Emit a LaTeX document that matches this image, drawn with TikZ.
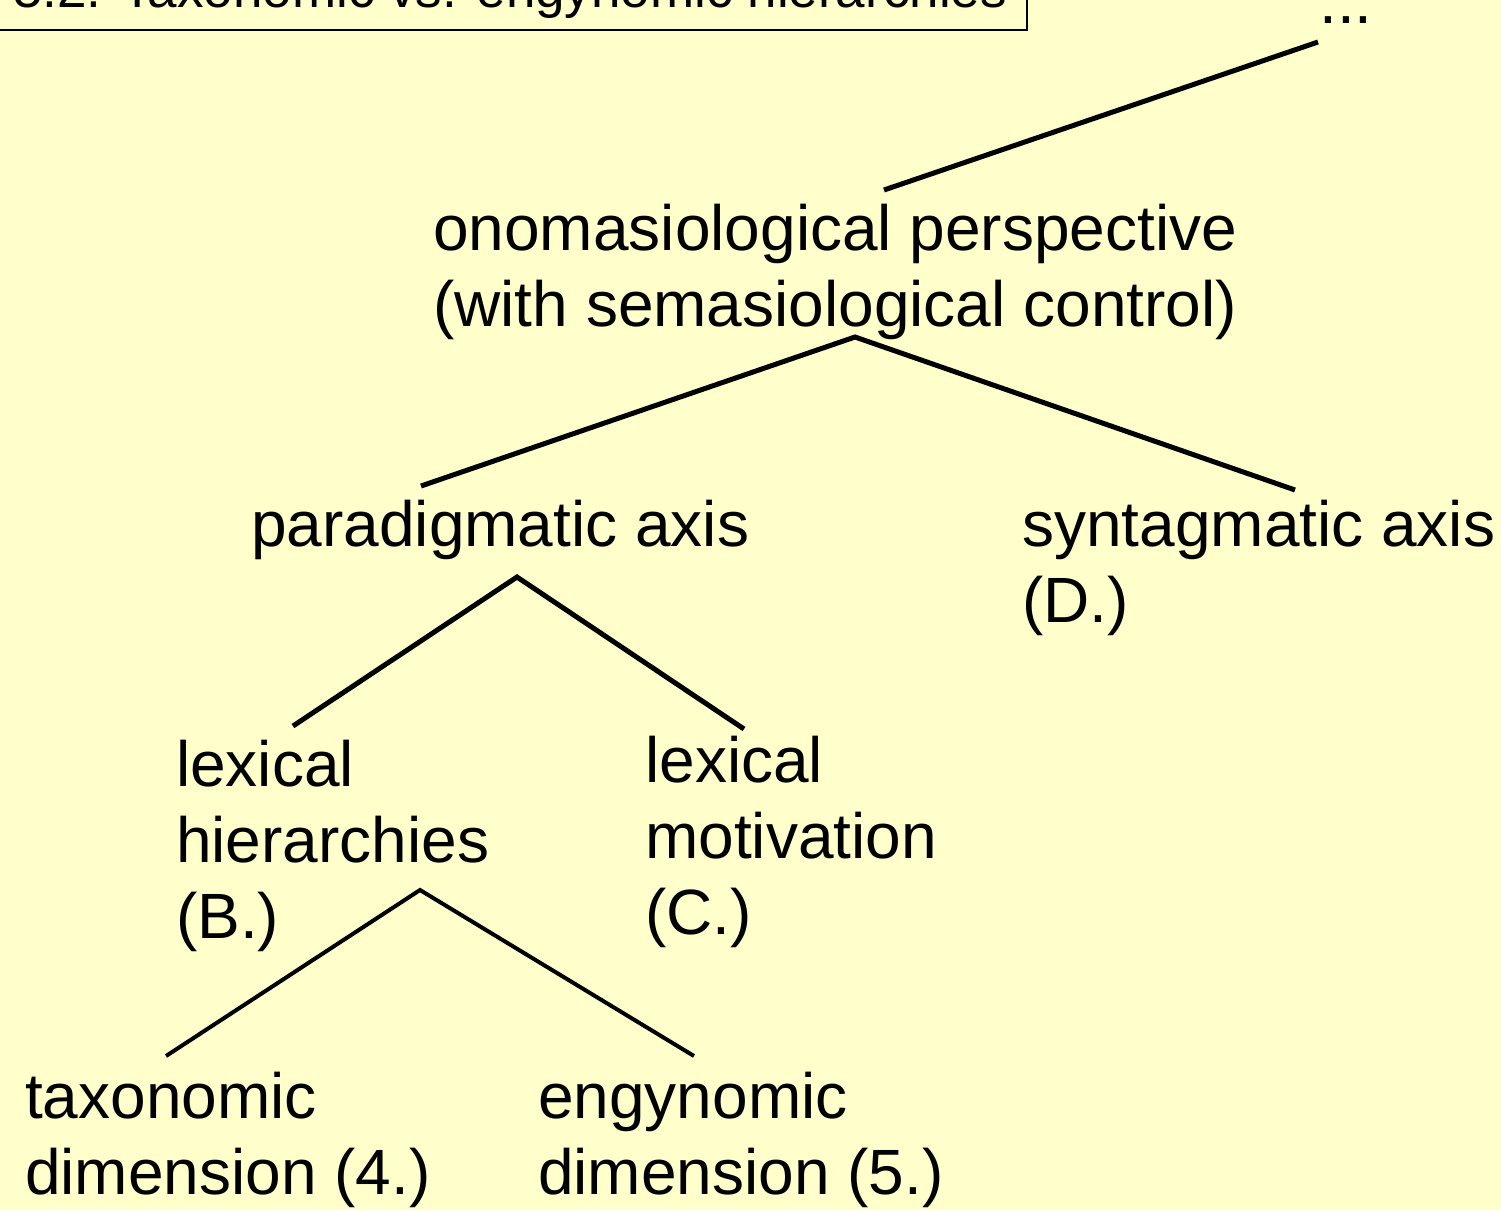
\documentclass[tikz,border=0pt]{standalone}
\usepackage{fontspec}
\setmainfont{Liberation Sans}
\definecolor{paper}{RGB}{255,255,204}
\begin{document}
\begin{tikzpicture}[x=1pt,y=-1pt,
  lbl/.style={anchor=base west, inner sep=0pt, font=\fontsize{64}{76}\selectfont},
  ttl/.style={anchor=base west, inner sep=0pt, font=\fontsize{53}{64}\selectfont},
  branch/.style={line width=5pt, line join=miter},
  twig/.style={line width=4pt, line join=miter}]
% page and background
\fill[paper] (0,0) rectangle (1501,1210);
\useasboundingbox (0,0) rectangle (1501,1210);
\clip (0,0) rectangle (1501,1210);

% heading box (runs off the top edge)
\node[ttl] (title) at (13,7) {5.2. Taxonomic vs. engynomic hierarchies};
\draw[line width=1.5pt] (-5,-70) rectangle (1027,30);

% text labels
\node[lbl] (dots) at (1319,23) {...};
\node[lbl] (onoA) at (433,250) {onomasiological perspective};
\node[lbl] (onoB) at (433,326) {(with semasiological control)};
\node[lbl] (para) at (251,546) {paradigmatic axis};
\node[lbl] (syntA) at (1022,546) {syntagmatic axis};
\node[lbl] (syntB) at (1022,622) {(D.)};
\node[lbl] (hierA) at (176,786) {lexical};
\node[lbl] (hierB) at (176,862) {hierarchies};
\node[lbl] (hierC) at (176,938) {(B.)};
\node[lbl] (motA) at (645,782) {lexical};
\node[lbl] (motB) at (645,858) {motivation};
\node[lbl] (motC) at (645,934) {(C.)};
\node[lbl] (taxA) at (25,1118) {taxonomic};
\node[lbl] (taxB) at (25,1194) {dimension (4.)};
\node[lbl] (engA) at (538,1118) {engynomic};
\node[lbl] (engB) at (538,1194) {dimension (5.)};

% connector end points
\coordinate (dotsfoot) at (1318,42);
\coordinate (onotop) at (884,190);
\coordinate (onofoot) at (855,337);
\coordinate (paratop) at (421,486);
\coordinate (synttop) at (1295,490);
\coordinate (parafoot) at (517,577);
\coordinate (hiertop) at (293,726);
\coordinate (mottop) at (744,729);
\coordinate (hierfoot) at (420,890);
\coordinate (taxtop) at (166,1056);
\coordinate (engtop) at (694,1056);

% tree branches
\draw[branch] (onotop) -- (dotsfoot);
\draw[branch] (paratop) -- (onofoot) -- (synttop);
\draw[branch] (hiertop) -- (parafoot) -- (mottop);
\draw[twig] (taxtop) -- (hierfoot) -- (engtop);
\end{tikzpicture}
\end{document}
